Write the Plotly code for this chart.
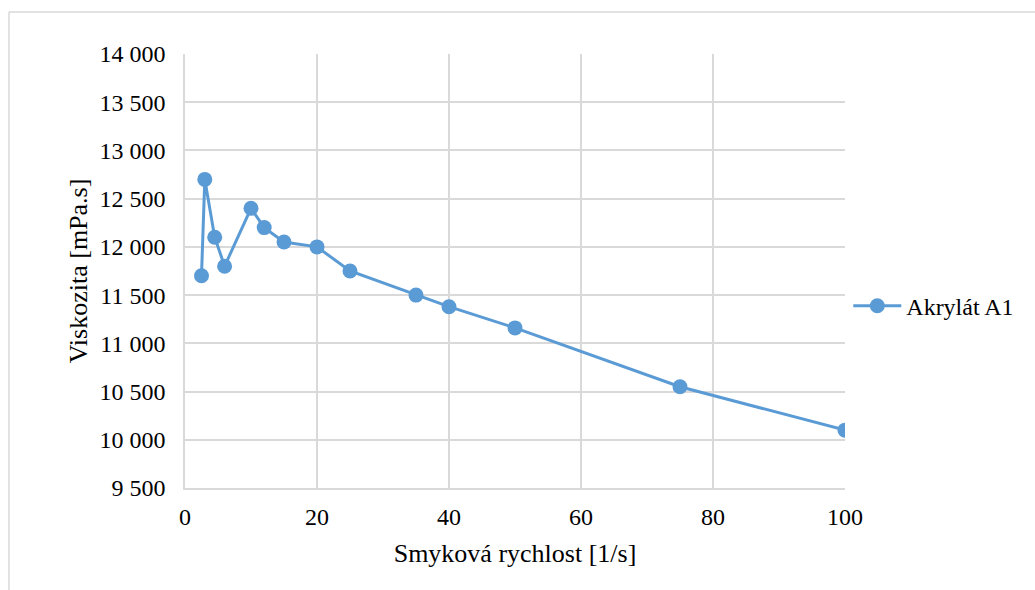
import plotly.graph_objects as go

shear_rate = [2.5, 3, 4.5, 6, 10, 12, 15, 20, 25, 35, 40, 50, 75, 100]
viscosity = [11700, 12700, 12100, 11800, 12400, 12200, 12050, 12000, 11750, 11500, 11380, 11160, 10550, 10100]
series_name = "Akrylát A1"
x_title = "Smyková rychlost [1/s]"
y_title = "Viskozita [mPa.s]"

color = "#5B9BD5"
grid = "#d9d9d9"
font_family = "Liberation Serif, Times New Roman, serif"

fig = go.Figure()
fig.add_trace(go.Scatter(
    x=shear_rate, y=viscosity, mode="lines+markers", name=series_name,
    line=dict(color=color, width=3),
    marker=dict(color=color, size=15),
))

fig.update_layout(
    width=1035, height=590,
    margin=dict(l=185, r=190, t=54, b=102),
    paper_bgcolor="white", plot_bgcolor="white",
    separators=", ",
    font=dict(family=font_family, size=24, color="black"),
    showlegend=True,
    legend=dict(x=1.005, y=0.419, xanchor="left", yanchor="middle",
                font=dict(size=24), itemwidth=48, tracegroupgap=0,
                borderwidth=0, bgcolor="rgba(0,0,0,0)"),
    xaxis=dict(range=[0, 100], dtick=20, tick0=0, showgrid=True, gridcolor=grid, gridwidth=1.5,
               showline=True, linecolor=grid, linewidth=1.5, zeroline=False,
               ticks="", ticklabelstandoff=6, tickfont=dict(size=24),
               title=dict(text=x_title, standoff=15, font=dict(size=26))),
    yaxis=dict(range=[9500, 14000], dtick=500, tick0=9500, showgrid=True, gridcolor=grid, gridwidth=1.5,
               showline=True, linecolor=grid, linewidth=1.5, zeroline=False,
               tickformat=",d", ticks="", ticklabelstandoff=13, tickfont=dict(size=24),
               title=dict(text=y_title, standoff=4, font=dict(size=26))),
    shapes=[
        dict(type="line", xref="paper", yref="paper", x0=-0.2667, x1=1.30, y0=1.0968, y1=1.0968,
             line=dict(color=grid, width=1.5)),
        dict(type="line", xref="paper", yref="paper", x0=-0.2667, x1=-0.2667, y0=1.0968, y1=-0.3,
             line=dict(color=grid, width=1.5)),
    ],
)

fig.write_html("out.html")
